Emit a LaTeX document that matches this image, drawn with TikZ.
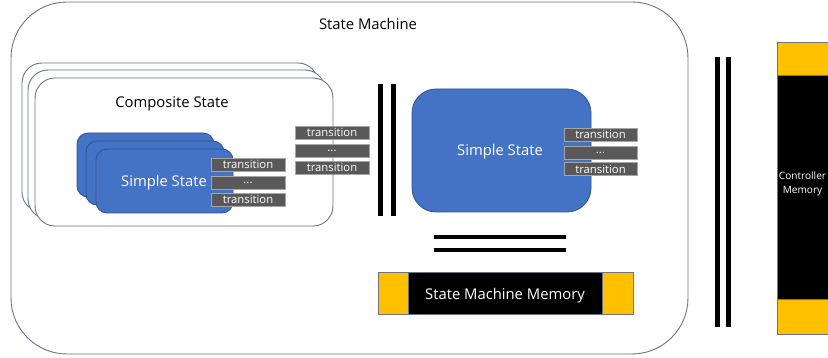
\documentclass[tikz,border=0pt]{standalone}
\usepackage{fontspec}
\setmainfont{Open Sans}
\definecolor{stblue}{HTML}{4472C4}
\definecolor{stblueedge}{HTML}{2F528F}
\definecolor{trgray}{HTML}{595959}
\definecolor{tredge}{HTML}{A6A6A6}
\definecolor{memyellow}{HTML}{FFC000}
\definecolor{frameline}{HTML}{6B7385}
\begin{document}
\begin{tikzpicture}[x=1pt,y=-1pt,
  frame/.style={draw=frameline, line width=0.9pt, fill=white},
  simplebox/.style={draw=stblueedge, line width=0.8pt, fill=stblue},
  trbox/.style={draw=tredge, line width=0.5pt, fill=trgray, text=white,
    font=\fontsize{11.3}{11}\selectfont, inner sep=0pt},
  bar/.style={fill=black, draw=none},
  lbl/.style={font=\fontsize{14.8}{15}\selectfont, inner sep=0pt, anchor=base},
]
\useasboundingbox (0,0) rectangle (828,358);

% outer state machine
\draw[frame, rounded corners=56pt] (11,2) rectangle (688,354);
\node[lbl] (smtitle) at (368,29.5) {State Machine};

% composite state stack
\draw[frame, rounded corners=20pt] (22,63) rectangle (318,212);
\draw[frame, rounded corners=20pt] (28,70) rectangle (325,219);
\draw[frame, rounded corners=20pt] (35,78) rectangle (333,226);
\node[lbl] (cstitle) at (172,108) {Composite State};

% simple state stack inside composite
\draw[simplebox, rounded corners=11pt] (77,133) rectangle (214,197);
\draw[simplebox, rounded corners=11pt] (86,141) rectangle (224,205);
\draw[simplebox, rounded corners=11pt] (96,149) rectangle (233,213);
\node[lbl, text=white] (sstitle) at (164,187) {Simple State};

% transitions of the inner simple state
\node[trbox, minimum width=74pt, minimum height=13pt] (t1a) at (248,164.5) {transition};
\node[trbox, minimum width=74pt, minimum height=13pt] (t1b) at (248,182.5) {\raisebox{-2pt}{...}};
\node[trbox, minimum width=74pt, minimum height=13pt] (t1c) at (248,199.5) {transition};

% transitions of the composite state
\node[trbox, minimum width=74pt, minimum height=13pt] (t2a) at (332,132.5) {transition};
\node[trbox, minimum width=74pt, minimum height=13pt] (t2b) at (332,150.5) {\raisebox{-2pt}{...}};
\node[trbox, minimum width=74pt, minimum height=13pt] (t2c) at (332,167.5) {transition};

% parallel separator bars
\fill[bar] (378,84) rectangle (382.5,216);
\fill[bar] (391,84) rectangle (395.5,216);

% big simple state
\node[simplebox, rounded corners=24pt, minimum width=179pt, minimum height=123pt] (bigss) at (501.5,150.5) {};
\node[lbl, text=white] (bigsslbl) at (500,156) {Simple State};

\node[trbox, minimum width=73pt, minimum height=13pt] (t3a) at (600.5,134.5) {transition};
\node[trbox, minimum width=73pt, minimum height=13pt] (t3b) at (600.5,152.5) {\raisebox{-2pt}{...}};
\node[trbox, minimum width=73pt, minimum height=13pt] (t3c) at (600.5,169) {transition};

% horizontal separator bars
\fill[bar] (434,235) rectangle (566,239);
\fill[bar] (434,248) rectangle (566,252);

% state machine memory
\fill[black] (408,272) rectangle (602,314);
\filldraw[fill=memyellow, draw=frameline, line width=0.4pt] (378,272) rectangle (408,314);
\filldraw[fill=memyellow, draw=frameline, line width=0.4pt] (602,272) rectangle (633,314);
\draw[frameline, line width=0.4pt] (378,272) rectangle (633,314);
\node[lbl, text=white] (smm) at (505,300) {State Machine Memory};

% separator bars before controller memory
\fill[bar] (715,57) rectangle (719.5,327);
\fill[bar] (726,57) rectangle (730.5,327);

% controller memory
\fill[black] (777,75) rectangle (840,299);
\filldraw[fill=memyellow, draw=frameline, line width=0.4pt] (777,42) rectangle (840,75);
\filldraw[fill=memyellow, draw=frameline, line width=0.4pt] (777,299) rectangle (840,334);
\draw[frameline, line width=0.4pt] (777,42) rectangle (840,334);
\node[text=white, align=center, inner sep=0pt, font=\fontsize{10.1}{14}\selectfont] (ctrl) at (802.5,184) {Controller\\Memory};
\end{tikzpicture}
\end{document}
